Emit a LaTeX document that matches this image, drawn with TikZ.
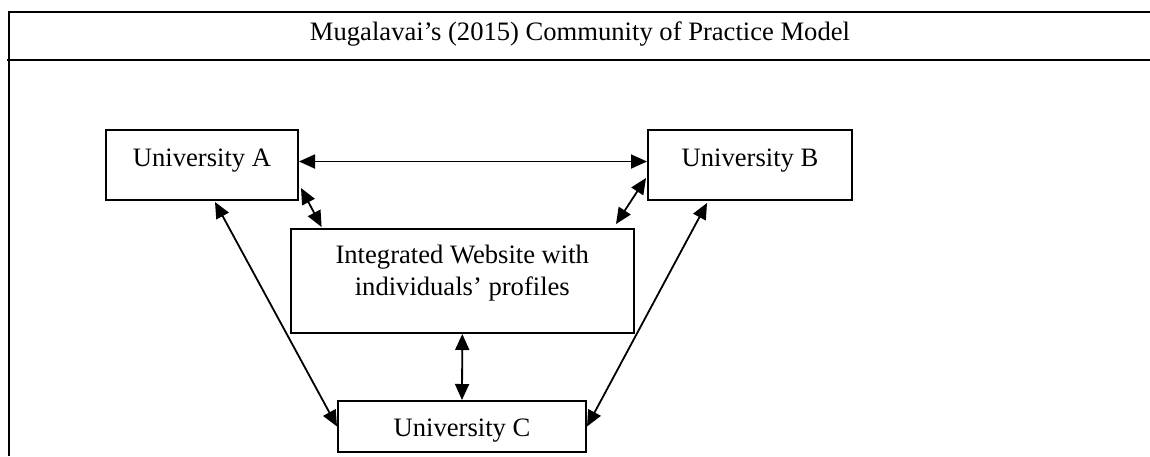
\documentclass[tikz,border=0pt]{standalone}
\usepackage{fontspec}
\setmainfont{Liberation Serif}
\usetikzlibrary{arrows.meta,calc}
\begin{document}
\begin{tikzpicture}[x=0.5pt,y=-0.5pt,
    every node/.style={font=\fontsize{13.3}{15.85}\selectfont},
    unibox/.style={draw, line width=1pt, inner xsep=0pt, inner ysep=0pt, align=center},
    link/.style={{Triangle[length=8pt,width=7pt]}-{Triangle[length=8pt,width=7pt]}, line width=0.9pt},
    frame/.style={line width=1pt}]

    \useasboundingbox (0,0) rectangle (1150,456);

    % Frame and heading
    \draw[frame] (1150,12) -- (8.5,12) -- (8.5,456);
    \draw[frame] (7,60) -- (1150,60);
    \node[anchor=base] (title) at (580,40) {Mugalavai’s (2015) Community of Practice Model};

    % Boxes
    \node[unibox, minimum width=96pt, text height=18pt, text depth=17pt] (uniA) at (202,165) {University A};
    \node[unibox, minimum width=102pt, text height=18pt, text depth=17pt] (uniB) at (750,165) {University B};
    \node[unibox, minimum width=171.7pt, text height=33pt, text depth=19pt] (web) at (462.3,281)
        {Integrated Website with\\individuals’ profiles};
    \node[unibox, minimum width=124pt, text height=17.5pt, text depth=8pt] (uniC) at (462,426.5) {University C};

    % Links
    \draw[link] ($(uniA.east)+(0,-3.5)$) -- ($(uniB.west)+(0,-3.5)$);
    \draw[link] ($(uniA.south east)+(2,-13)$) -- ($(web.north west)+(32,-1)$);
    \draw[link] ($(uniB.south west)+(-1,-23)$) -- ($(web.north east)+(-19,-4)$);
    \draw[link] ($(uniA.south)+(13,1)$) -- (uniC.west);
    \draw[link] ($(uniB.south)+(-43,2)$) -- (uniC.east);
    \draw[link] (web.south) -- (uniC.north);
\end{tikzpicture}
\end{document}
